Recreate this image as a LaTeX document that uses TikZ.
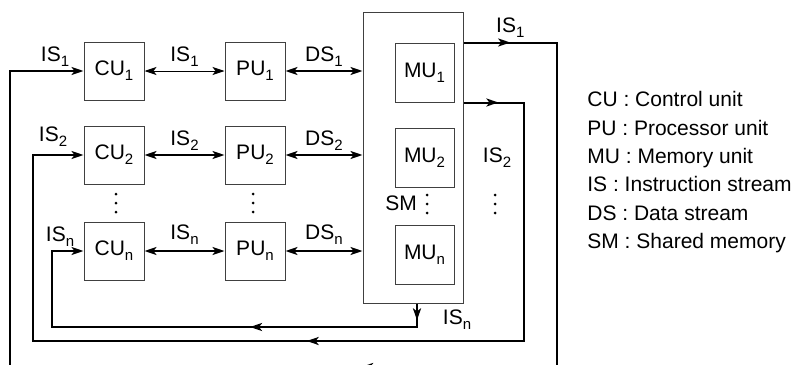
\documentclass[tikz,border=0pt]{standalone}
\usepackage{fontspec}
\setmainfont{Liberation Sans}
\usetikzlibrary{positioning, calc, arrows.meta, decorations.markings}

\newcommand{\idx}[1]{\raisebox{-2.5pt}{\fontsize{7.5}{8}\selectfont #1}}

\tikzset{
    unit/.style={draw=black!75, line width=0.5pt, minimum width=30pt, minimum height=29pt, inner sep=0pt},
    memunit/.style={unit, minimum width=29.5pt, minimum height=29.5pt},
    stream/.style={line width=1pt},
    lbl/.style={inner sep=0pt},
    arrowat/.style={postaction={decorate, decoration={markings, mark=at position #1 with {\arrow{>}}}}},
}

\begin{document}
\begin{tikzpicture}[x=0.5pt, y=-0.5pt, >={Stealth[length=6pt, width=4pt, inset=1.5pt]}, font=\fontsize{10.5}{14.2}\selectfont]
    \useasboundingbox (0,0) rectangle (797,364);
    \clip (0,0) rectangle (797,364);

    % control units and processor units
    \node[unit] at (114,71) (cu1) {CU\idx{1}};
    \node[unit, below=12.5pt of cu1] (cu2) {CU\idx{2}};
    \node[unit, below=18.5pt of cu2] (cun) {CU\idx{n}};
    \node[unit, right=40pt of cu1] (pu1) {PU\idx{1}};
    \node[unit, right=40pt of cu2] (pu2) {PU\idx{2}};
    \node[unit, right=40pt of cun] (pun) {PU\idx{n}};

    % shared memory
    \node[unit, minimum width=50pt, minimum height=145.5pt] at (413,157.5) (sm) {};
    \node[memunit] at (424.5,72.5) (mu1) {MU\idx{1}};
    \node[memunit, below=12.5pt of mu1] (mu2) {MU\idx{2}};
    \node[memunit, below=18.5pt of mu2] (mun) {MU\idx{n}};
    \node[lbl] at (401,203) (smlabel) {SM};

    \foreach \x/\y in {116/194, 253/194, 427/195, 495/195} {
        \foreach \d in {0, 9, 18} \fill (\x,\y+\d) circle (0.75pt);
    };

    % streams between the units
    \draw[<->, line width=0.5pt] (cu1) -- node[lbl, above=2pt] (is1mid) {IS\idx{1}} (pu1);
    \draw[<->, stream] (cu2) -- node[lbl, above=2pt] (is2mid) {IS\idx{2}} (pu2);
    \draw[<->, stream] (cun) -- node[lbl, above=3pt] (isnmid) {IS\idx{n}} (pun);
    \draw[<->, stream] (pu1) -- node[lbl, above=2pt] (ds1) {DS\idx{1}} (pu1 -| sm.west);
    \draw[<->, stream] (pu2) -- node[lbl, above=2pt] (ds2) {DS\idx{2}} (pu2 -| sm.west);
    \draw[<->, stream] (pun) -- node[lbl, above=3pt] (dsn) {DS\idx{n}} (pun -| sm.west);

    % instruction streams back to the control units
    \coordinate (is1r) at (557,367);
    \coordinate (is1l) at (10,367);
    \coordinate (is2r) at (524,341);
    \coordinate (is2l) at (33,341);
    \coordinate (isnr) at (417,327);
    \coordinate (isnl) at (52,327);

    \draw[->, stream, arrowat=0.035, arrowat=0.46] (sm.east |- mu1.north) -| node[lbl, pos=0.25, above=2pt] (is1out) {IS\idx{1}} (is1r) -- (is1l) |- (cu1.west);
    \draw[->, stream, arrowat=0.034, arrowat=0.503] (sm.east |- mu1.south) -| (is2r) -- (is2l) |- (cu2.west);
    \draw[->, stream, arrowat=0.034, arrowat=0.384] (sm.south -| isnr) -- (isnr) -- (isnl) |- (cun.west);

    \node[lbl, above left=2pt and 7pt of cu1.west] (is1in) {IS\idx{1}};
    \node[lbl, above left=4pt and 8pt of cu2.west] (is2in) {IS\idx{2}};
    \node[lbl, above left=2pt and 4.5pt of cun.west] (isnin) {IS\idx{n}};
    \node[lbl] at (497,158) (is2out) {IS\idx{2}};
    \node[lbl] at (457,320) (isnout) {IS\idx{n}};

    % legend
    \node[lbl, anchor=north west, align=left] at (587,91) (legend) {CU : Control unit\\PU : Processor unit\\MU : Memory unit\\IS : Instruction stream\\DS : Data stream\\SM : Shared memory};
\end{tikzpicture}
\end{document}
